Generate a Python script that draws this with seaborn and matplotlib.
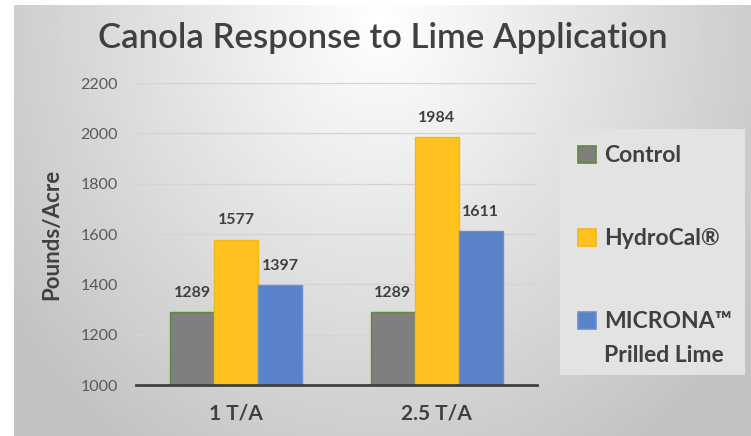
import numpy as np
import pandas as pd
import matplotlib
matplotlib.use("Agg")
import matplotlib.pyplot as plt
from matplotlib.patches import Rectangle, Patch
import seaborn as sns

# ---- data ----
rates = ["1 T/A", "2.5 T/A"]
treatments = ["Control", "HydroCal®", "MICRONA™"]
treatment_second_line = ["", "", "Prilled Lime"]
control = [1289, 1289]
hydrocal = [1577, 1984]
microna = [1397, 1611]
y_ticks = [1000, 1200, 1400, 1600, 1800, 2000, 2200]

face_colors = ["#7f7f7f", "#FFC21E", "#5A82C9"]
edge_colors = ["#5f8a3c", "#F2B718", "#6A8FD0"]

df = pd.DataFrame({
    "rate": rates * 3,
    "treatment": [treatments[0]] * 2 + [treatments[1]] * 2 + [treatments[2]] * 2,
    "value": control + hydrocal + microna,
})

sns.set_theme(style="white")
plt.rcParams["font.family"] = ["Lato", "DejaVu Sans"]

W, H = 751, 436
fig = plt.figure(figsize=(W / 100, H / 100), dpi=100)
fig.patch.set_facecolor("white")

# gradient background
bg = fig.add_axes([14 / W, 0, 1 - 14 / W, 431 / H])
bg.set_axis_off()
xs = np.linspace(14, W, 400)
ys = np.linspace(5, H, 300)
X, Y = np.meshgrid(xs, ys)
d = np.sqrt(((X - 380) / 420) ** 2 + ((Y - 20) / 480) ** 2)
g = 1 - 0.22 * np.clip(d, 0, 1.1)
bg.imshow(g, cmap="gray", vmin=0, vmax=1, aspect="auto", extent=[0, 1, 0, 1],
          interpolation="bilinear")
bg.set_xlim(0, 1)
bg.set_ylim(0, 1)

ax = fig.add_axes([136 / W, (H - 385) / H, (537 - 136) / W, (385 - 83) / H])
ax.patch.set_alpha(0)

sns.barplot(data=df, x="rate", y="value", hue="treatment", palette=face_colors,
            saturation=1, width=0.66, gap=0, ax=ax, legend=False)

for cont, ec in zip(ax.containers, edge_colors):
    for b in cont:
        b.set_edgecolor(ec)
        b.set_linewidth(1.0)
    ax.bar_label(cont, fmt="%d", padding=9, fontsize=11.5, fontweight="bold",
                 color="#404040")

ax.set_ylim(1000, 2200)
ax.set_yticks(y_ticks)
ax.set_yticklabels([str(v) for v in y_ticks], fontsize=11.5, color="#595959")
ax.yaxis.grid(True, color="#d4d4d4", linewidth=1)
ax.set_axisbelow(True)
ax.tick_params(axis="y", length=0, pad=13)
ax.tick_params(axis="x", length=0, pad=13, labelsize=15, labelcolor="#404040")
for lbl in ax.get_xticklabels():
    lbl.set_fontweight("bold")
for s in ["top", "right", "left"]:
    ax.spines[s].set_visible(False)
ax.spines["bottom"].set_color("#404040")
ax.spines["bottom"].set_linewidth(2)
ax.set_xlabel("")
ax.set_ylabel("Pounds/Acre", fontsize=16, fontweight="bold", color="#404040",
              labelpad=13)

fig.text(383 / W, 1 - 38 / H, "Canola Response to Lime Application",
         ha="center", va="center", fontsize=25, fontweight="semibold",
         color="#404040")

# legend box
fig.add_artist(Rectangle((560 / W, 1 - 375 / H), (745 - 560) / W, (375 - 129) / H,
                         transform=fig.transFigure, facecolor="#e3e3e3",
                         edgecolor="none", zorder=0.5))
handles = [Patch(facecolor=fc, edgecolor=ec, linewidth=1.2)
           for fc, ec in zip(face_colors, edge_colors)]
leg = fig.legend(handles, treatments, loc="upper left",
                 bbox_to_anchor=(567 / W, 1 - 134 / H), frameon=False,
                 prop={"size": 16.5, "weight": "bold"}, labelcolor="#404040",
                 handlelength=0.75, handleheight=0.75, handletextpad=0.35,
                 labelspacing=2.7, borderpad=0)

fig.canvas.draw()
inv = fig.transFigure.inverted()
for t, extra in zip(leg.get_texts(), treatment_second_line):
    if extra:
        bb = t.get_window_extent()
        x0, y0 = inv.transform((bb.x0, bb.y0 - 13))
        fig.text(x0, y0, extra, ha="left", va="top", fontsize=16.5,
                 fontweight="bold", color="#404040")

fig.savefig("out.png", dpi=100)
